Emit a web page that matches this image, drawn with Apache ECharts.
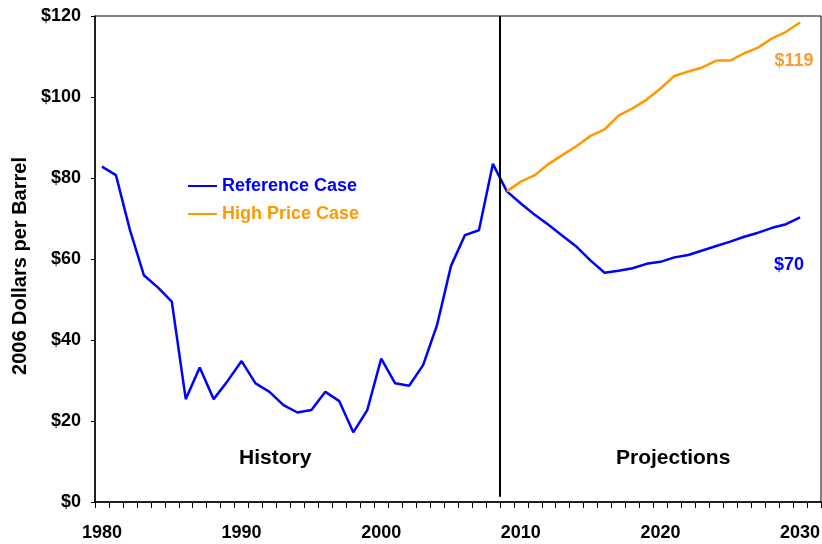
<!DOCTYPE html>
<html>
<head>
<meta charset="utf-8">
<script src="https://cdn.jsdelivr.net/npm/echarts@6/dist/echarts.min.js"></script>
<style>
html,body{margin:0;padding:0;background:#fff;}
#chart{width:822px;height:544px;}
</style>
</head>
<body>
<div id="chart"></div>
<script>
const years = ['1980','1981','1982','1983','1984','1985','1986','1987','1988','1989',
  '1990','1991','1992','1993','1994','1995','1996','1997','1998','1999',
  '2000','2001','2002','2003','2004','2005','2006','2007','2008','2009',
  '2010','2011','2012','2013','2014','2015','2016','2017','2018','2019',
  '2020','2021','2022','2023','2024','2025','2026','2027','2028','2029',
  '2030','2031'];
const referenceCase = [82.8,80.7,67.2,56.0,53.0,49.5,25.4,33.2,25.4,29.9,
  34.8,29.3,27.2,23.9,22.1,22.7,27.2,24.9,17.2,22.7,
  35.4,29.3,28.7,33.8,43.7,58.3,65.9,67.1,83.5,76.7,
  73.7,70.9,68.4,65.7,63.0,59.6,56.6,57.1,57.7,58.8,
  59.3,60.4,61.0,62.1,63.2,64.3,65.5,66.5,67.7,68.6,
  70.3,null];
const highPriceCase = [null,null,null,null,null,null,null,null,null,null,
  null,null,null,null,null,null,null,null,null,null,
  null,null,null,null,null,null,null,null,null,76.7,
  79.1,80.7,83.5,85.7,87.9,90.4,92.0,95.4,97.2,99.3,
  102.1,105.2,106.3,107.3,109.0,109.0,110.8,112.2,114.5,116.1,
  118.4,null];
const yTicks = [0,20,40,60,80,100,120];
const dividerYear = 2008.5;
const endLabels = {reference:'$70', high:'$119'};

const FONT = 'Liberation Sans, Arial, sans-serif';
const BLUE = '#0000FF', ORANGE = '#FF9900';

function endMarker(arr, text, color, offset){
  let last = -1;
  arr.forEach((v,i)=>{ if(v!=null) last=i; });
  return {
    silent:true,
    data:[{coord:[years[last], arr[last]], symbol:'circle', symbolSize:1,
      itemStyle:{color:'rgba(0,0,0,0)'},
      label:{show:true, formatter:text, color:color, fontFamily:FONT, fontWeight:'bold',
        fontSize:18, position:'inside', align:'center', verticalAlign:'middle', offset:offset}}]
  };
}

const chart = echarts.init(document.getElementById('chart'), null, {renderer:'canvas'});
chart.setOption({
  animation:false,
  backgroundColor:'#fff',
  grid:{left:95, top:16, right:1, bottom:42, show:true, borderColor:'#000', borderWidth:1,
        containLabel:false, outerBoundsMode:'none'},
  legend:{
    orient:'vertical', left:183, top:172, itemGap:10, itemWidth:29, itemHeight:2,
    icon:'rect',
    textStyle:{fontFamily:FONT, fontWeight:'bold', fontSize:18},
    data:[{name:'Reference Case', textStyle:{color:BLUE}},
          {name:'High Price Case', textStyle:{color:ORANGE}}]
  },
  xAxis:[{
    type:'category', data:years, boundaryGap:true,
    axisLine:{show:true, lineStyle:{color:'#000', width:1.5}},
    axisTick:{show:true, interval:0, alignWithLabel:false, inside:false, length:6, lineStyle:{color:'#000', width:1}},
    axisLabel:{interval:9, margin:22, color:'#000', fontFamily:FONT, fontWeight:'bold', fontSize:18},
    splitLine:{show:false}
  },{
    type:'value', min:1979.5, max:2031.5, show:false
  }],
  yAxis:{
    type:'value', min:yTicks[0], max:yTicks[yTicks.length-1], interval:20,
    name:'2006 Dollars per Barrel', nameLocation:'middle', nameRotate:90, nameGap:64,
    nameTextStyle:{color:'#000', fontFamily:FONT, fontWeight:'bold', fontSize:20, padding:[0,14,0,0]},
    axisLine:{show:true, lineStyle:{color:'#000', width:1.5}},
    axisTick:{show:true, length:4, lineStyle:{color:'#000'}},
    axisLabel:{formatter:'${value}', margin:14, color:'#000', fontFamily:FONT, fontWeight:'bold', fontSize:18},
    splitLine:{show:false}
  },
  series:[
    {name:'Reference Case', type:'line', data:referenceCase,
     showSymbol:false, symbol:'none', lineStyle:{color:BLUE, width:2.5}, itemStyle:{color:BLUE}, z:3,
     markPoint:endMarker(referenceCase, endLabels.reference, BLUE, [-11,48])},
    {name:'High Price Case', type:'line', data:highPriceCase,
     showSymbol:false, symbol:'none', lineStyle:{color:ORANGE, width:2.5}, itemStyle:{color:ORANGE}, z:3,
     markPoint:endMarker(highPriceCase, endLabels.high, '#FF9933', [-6,39])},
    {name:'divider', type:'line', xAxisIndex:1, data:[[dividerYear,null]], silent:true, clip:false,
     symbol:'none',
     markLine:{symbol:'none', silent:true, label:{show:false},
       lineStyle:{color:'#000', width:2, type:'solid'},
       data:[[{coord:[dividerYear,120]},{coord:[dividerYear,1.3]}]]}, z:2}
  ],
  graphic:[
    {type:'text', left:239, top:448, style:{text:'History', fill:'#000', font:'bold 21px '+FONT}},
    {type:'text', left:616, top:448, style:{text:'Projections', fill:'#000', font:'bold 21px '+FONT}}
  ]
});
</script>
</body>
</html>
